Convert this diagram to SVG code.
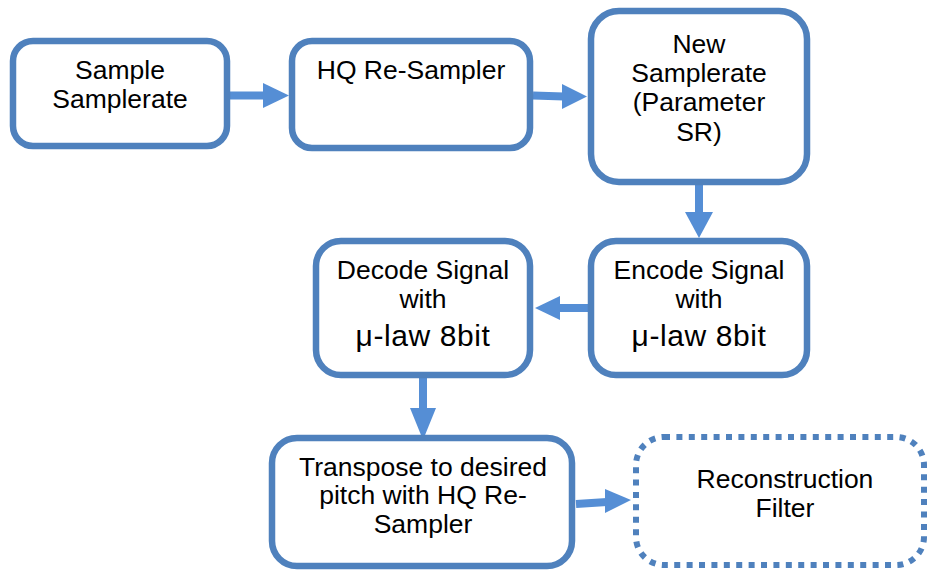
<svg xmlns="http://www.w3.org/2000/svg" width="928" height="572" viewBox="0 0 928 572">
<style>
.box{fill:#fff;stroke:#4F81BD;stroke-width:6.5}
.dot{fill:#fff;stroke:#4F81BD;stroke-width:6;stroke-dasharray:6 6.4}
.ln{stroke:#558ED5;stroke-width:8;fill:none}
.hd{fill:#558ED5}
text{font-family:"Liberation Sans",Arial,sans-serif;font-size:26.5px;fill:#000;text-anchor:middle}
.big{font-size:30px;letter-spacing:0.6px}
</style>
<rect width="928" height="572" fill="#fff"/>
<g id="connectors">
<line class="ln" x1="230" y1="95.5" x2="265" y2="95.5"/>
<polygon class="hd" points="263,83 289,95.5 263,108"/>
<line class="ln" x1="533" y1="95.5" x2="564" y2="96.5"/>
<polygon class="hd" points="562,84 587,96.5 562,109"/>
<line class="ln" x1="699" y1="185" x2="699" y2="214"/>
<polygon class="hd" points="685,212 713,212 699,238"/>
<line class="ln" x1="589" y1="308" x2="557" y2="308"/>
<polygon class="hd" points="560,296 560,320 535,308"/>
<line class="ln" x1="423" y1="378" x2="423" y2="410"/>
<polygon class="hd" points="410,408 436,408 423,440"/>
<line class="ln" x1="576" y1="504" x2="607" y2="502"/>
<polygon class="hd" points="605,489 605,513 631,500"/>
</g>
<g id="n1">
<rect class="box" x="13" y="41" width="214" height="105" rx="20"/>
<text x="120" y="79">Sample</text>
<text x="120" y="108">Samplerate</text>
</g>
<g id="n2">
<rect class="box" x="292" y="41" width="238" height="107" rx="20"/>
<text x="411" y="79">HQ Re-Sampler</text>
</g>
<g id="n3">
<rect class="box" x="591" y="11" width="216" height="171" rx="28"/>
<text x="699" y="53">New</text>
<text x="699" y="82">Samplerate</text>
<text x="699" y="111">(Parameter</text>
<text x="699" y="141">SR)</text>
</g>
<g id="n4">
<rect class="box" x="591" y="241" width="216" height="134" rx="25"/>
<text x="699" y="279">Encode Signal</text>
<text x="699" y="308">with</text>
<text class="big" x="699" y="346">μ-law 8bit</text>
</g>
<g id="n5">
<rect class="box" x="316" y="241" width="214" height="134" rx="25"/>
<text x="423" y="279">Decode Signal</text>
<text x="423" y="308">with</text>
<text class="big" x="423" y="346">μ-law 8bit</text>
</g>
<g id="n6">
<rect class="box" x="272" y="438" width="300" height="128" rx="25"/>
<text x="423" y="476">Transpose to desired</text>
<text x="423" y="504">pitch with HQ Re-</text>
<text x="423" y="533">Sampler</text>
</g>
<g id="n7">
<rect class="dot" x="636" y="437" width="288" height="128" rx="28"/>
<text x="785" y="488">Reconstruction</text>
<text x="785" y="517">Filter</text>
</g>
</svg>
